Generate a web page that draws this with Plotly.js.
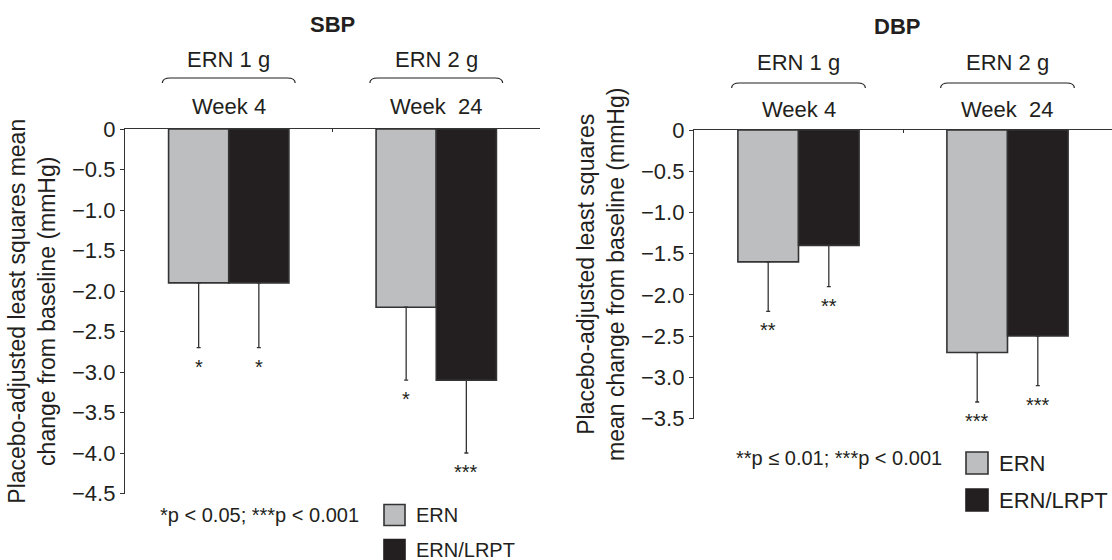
<!DOCTYPE html>
<html><head><meta charset="utf-8">
<script src="https://cdn.plot.ly/plotly-3.0.1.min.js"></script>
<style>html,body{margin:0;padding:0;background:#fff}#chart{width:1112px;height:560px}</style>
</head><body><div id="chart"></div>
<script>
// ---- data ----
const groups = ['ERN 1 g', 'ERN 2 g'];
const weeks = ['Week 4', 'Week\u00a0 24'];
const seriesNames = ['ERN', 'ERN/LRPT'];
const sbpERN = [-1.9, -2.2];
const sbpLRPT = [-1.9, -3.1];
const sbpERNerr = [0.8, 0.9];
const sbpLRPTerr = [0.8, 0.9];
const sbpERNsig = ['*', '*'];
const sbpLRPTsig = ['*', '***'];
const dbpERN = [-1.6, -2.7];
const dbpLRPT = [-1.4, -2.5];
const dbpERNerr = [0.6, 0.6];
const dbpLRPTerr = [0.5, 0.6];
const dbpERNsig = ['**', '***'];
const dbpLRPTsig = ['**', '***'];
const sbpTickVals = [0, -0.5, -1.0, -1.5, -2.0, -2.5, -3.0, -3.5, -4.0, -4.5];
const sbpTickText = ['0', '\u22120.5', '\u22121.0', '\u22121.5', '\u22122.0', '\u22122.5', '\u22123.0', '\u22123.5', '\u22124.0', '\u22124.5'];
const dbpTickVals = [0, -0.5, -1.0, -1.5, -2.0, -2.5, -3.0, -3.5];
const dbpTickText = ['0', '\u22120.5', '\u22121.0', '\u22121.5', '\u22122.0', '\u22122.5', '\u22123.0', '\u22123.5'];
const panelTitles = ['SBP', 'DBP'];
const yTitles = ['Placebo-adjusted least squares mean<br>change from baseline (mmHg)',
                 'Placebo-adjusted least squares<br>mean change from baseline (mmHg)'];
const footnotes = ['*p < 0.05; ***p < 0.001', '**p \u2264 0.01; ***p < 0.001'];

// ---- style ----
const W = 1112, H = 560;
const INK = '#231f20', LINE = '#333333';
const GRAY = '#bcbec0', BLACK = '#231f20';
const FONT = 'Liberation Sans, Arial, Helvetica, sans-serif';
const BARGAP = 0.42;
const px = (v) => v / W, py = (v) => 1 - v / H;
const seriesColors = [GRAY, BLACK];

const dom = {
  x1: [px(125), px(540)], y1: [py(493.5), py(129)],
  x2: [px(694), 1], y2: [py(418.5), py(130)]
};

function barTrace(name, y, err, color, xa, ya) {
  return {
    type: 'bar', name: name, x: groups, y: y, xaxis: xa, yaxis: ya,
    marker: {color: color, line: {color: LINE, width: 1.6}},
    error_y: {type: 'data', symmetric: false, array: y.map(() => 0), arrayminus: err,
              color: LINE, thickness: 1.3, width: 2},
    showlegend: false, hoverinfo: 'skip'
  };
}

const data = [
  barTrace(seriesNames[0], sbpERN, sbpERNerr, GRAY, 'x', 'y'),
  barTrace(seriesNames[1], sbpLRPT, sbpLRPTerr, BLACK, 'x', 'y'),
  barTrace(seriesNames[0], dbpERN, dbpERNerr, GRAY, 'x2', 'y2'),
  barTrace(seriesNames[1], dbpLRPT, dbpLRPTerr, BLACK, 'x2', 'y2')
];

function xAxis(domain, anchor) {
  return {domain: domain, anchor: anchor, type: 'category', range: [-0.5, 1.5], side: 'top',
    showline: true, linecolor: LINE, linewidth: 1.2, ticks: 'inside', ticklen: 3,
    tickcolor: LINE, tickson: 'boundaries', showticklabels: false, showgrid: false,
    zeroline: false, fixedrange: true};
}
function yAxis(domain, anchor, range, vals, text, title) {
  return {domain: domain, anchor: anchor, range: range, tickmode: 'array',
    tickvals: vals, ticktext: text, ticks: 'outside', ticklen: 4, tickcolor: LINE,
    showline: true, linecolor: LINE, linewidth: 1.2, showgrid: false, zeroline: false,
    tickfont: {size: 22, color: INK, family: FONT}, fixedrange: true,
    title: {text: title, font: {size: 23, color: INK, family: FONT}, standoff: 10}};
}

const ann = [];
function txt(text, x, y, xref, yref, size, extra) {
  ann.push(Object.assign({text: text, x: x, y: y, xref: xref, yref: yref,
    showarrow: false, font: {size: size, color: INK, family: FONT},
    xanchor: 'center', yanchor: 'middle'}, extra || {}));
}
// panel titles
txt('<b>' + panelTitles[0] + '</b>', (dom.x1[0] + dom.x1[1]) / 2, py(25), 'paper', 'paper', 22);
txt('<b>' + panelTitles[1] + '</b>', (dom.x2[0] + dom.x2[1]) / 2 - px(6), py(26), 'paper', 'paper', 22);
// group + week labels
groups.forEach((g, i) => {
  txt(g, g, py(60), 'x', 'paper', 22);
  txt(weeks[i], g, py(106), 'x', 'paper', 22);
  txt(g, g, py(62), 'x2', 'paper', 22);
  txt(weeks[i], g, py(110), 'x2', 'paper', 22);
});
// significance stars
const off = (1 - BARGAP) / 4;
function stars(vals, errs, sig, dx, xref, yref) {
  vals.forEach((v, i) => {
    txt(sig[i], i + dx, v - errs[i], xref, yref, 20, {yanchor: 'top', yshift: -6});
  });
}
stars(sbpERN, sbpERNerr, sbpERNsig, -off, 'x', 'y');
stars(sbpLRPT, sbpLRPTerr, sbpLRPTsig, off, 'x', 'y');
stars(dbpERN, dbpERNerr, dbpERNsig, -off, 'x2', 'y2');
stars(dbpLRPT, dbpLRPTerr, dbpLRPTsig, off, 'x2', 'y2');
// footnotes
txt(footnotes[0], px(259), py(515), 'paper', 'paper', 20);
txt(footnotes[1], px(839), py(458), 'paper', 'paper', 20);

const shapes = [];
// legends (swatch + label), one per panel
function legend(x0, yCenters, size, fontSize) {
  seriesNames.forEach((n, k) => {
    const yc = yCenters[k];
    shapes.push({type: 'rect', xref: 'paper', yref: 'paper',
      x0: px(x0), x1: px(x0 + size), y0: py(yc + size / 2), y1: py(yc - size / 2),
      fillcolor: seriesColors[k], line: {color: k === 0 ? LINE : BLACK, width: 1.6}});
    txt(n, px(x0 + size + 9), py(yc), 'paper', 'paper', fontSize, {xanchor: 'left'});
  });
}
legend(384, [515, 550], 21, 20);
legend(966, [463, 500], 22, 22);

// braces over the groups
function braceX(domain, i, d) {
  return domain[0] + (i + d + 0.5) / 2 * (domain[1] - domain[0]);
}
function brace(domain, i, yTop) {
  const x0 = braceX(domain, i, -0.32), x1 = braceX(domain, i, 0.32);
  const dx = px(8), yt = py(yTop), yb = py(yTop + 5);
  shapes.push({type: 'path', xref: 'paper', yref: 'paper',
    path: `M${x0},${yb} Q${x0},${yt} ${x0 + dx},${yt} L${x1 - dx},${yt} Q${x1},${yt} ${x1},${yb}`,
    line: {color: INK, width: 1.2}});
}
groups.forEach((g, i) => { brace(dom.x1, i, 78); brace(dom.x2, i, 83); });

const layout = {
  width: W, height: H, margin: {l: 0, r: 0, t: 0, b: 0, autoexpand: false},
  paper_bgcolor: '#fff', plot_bgcolor: 'rgba(0,0,0,0)',
  font: {family: FONT, color: INK},
  barmode: 'group', bargap: BARGAP, bargroupgap: 0,
  xaxis: xAxis(dom.x1, 'y'),
  yaxis: yAxis(dom.y1, 'x', [-4.5, 0], sbpTickVals, sbpTickText, yTitles[0]),
  xaxis2: xAxis(dom.x2, 'y2'),
  yaxis2: yAxis(dom.y2, 'x2', [-3.5, 0], dbpTickVals, dbpTickText, yTitles[1]),
  annotations: ann, shapes: shapes, showlegend: false
};

Plotly.newPlot('chart', data, layout, {displayModeBar: false, staticPlot: true});
</script></body></html>
